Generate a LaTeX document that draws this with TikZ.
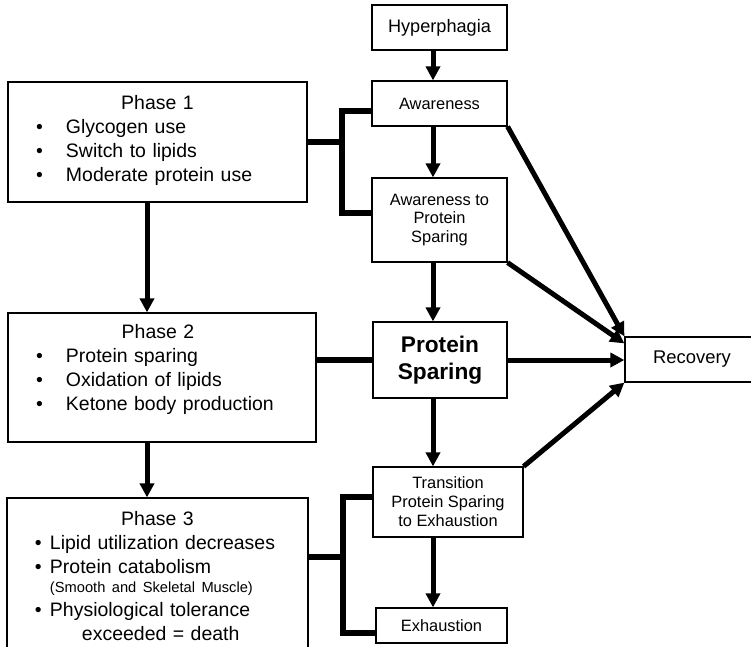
\documentclass[tikz,border=0pt]{standalone}
\usepackage{fontspec}
\setmainfont{Liberation Sans}
\usetikzlibrary{arrows.meta,positioning}
\newlength{\px}\setlength{\px}{0.75pt}
\newcommand{\pitem}[1]{\hspace*{28\px}\makebox[30\px][l]{\textbullet}#1}
\newcommand{\qitem}[1]{\hspace*{28\px}\makebox[15\px][l]{\textbullet}#1}
\tikzset{
  box/.style      ={draw,line width=1.2\px,minimum width=135\px,minimum height=45\px,inner sep=0pt,align=center,font=\fontsize{12.3}{13.6}\selectfont},
  phasebox/.style ={draw,line width=1.2\px,inner sep=0pt},
  phasetext/.style={text width=#1,inner sep=0pt,align=left,font=\fontsize{14.6}{18}\selectfont},
  bar/.style      ={line width=5.5\px},
  arr/.style      ={line width=5\px,-{Triangle[length=10.5pt,width=10.5pt]}},
}
\begin{document}
\begin{tikzpicture}[x=0.75pt,y=-0.75pt]
  \useasboundingbox (0,0) rectangle (751,647);
  % right column
  \node[box,font=\fontsize{13.6}{16}\selectfont] (hyper) at (439.5,27.5) {Hyperphagia};
  \node[box] (aware) at (439.5,103.5) {Awareness};
  \node[box,minimum height=84\px] (awps) at (439.5,220) {Awareness to\\Protein\\Sparing};
  \node[box,minimum width=134\px,minimum height=76\px,font=\fontsize{17}{20}\selectfont\bfseries] (ps) at (440,360) {Protein\\Sparing};
  \node[box,minimum width=150\px,minimum height=70\px,font=\fontsize{12.3}{14.3}\selectfont] (trans) at (448,502) {Transition\\Protein Sparing\\to Exhaustion};
  \node[box,minimum width=131\px,minimum height=35\px] (exh) at (441.5,625.5) {Exhaustion};
  \node[box,minimum width=134\px,font=\fontsize{13.8}{16}\selectfont] (rec) at (692,359.5) {Recovery};
  % phases
  \node[phasebox,minimum width=299\px,minimum height=120\px] (ph1) at (157.5,142) {};
  \node[phasetext=299\px,below=14\px of ph1.north] (ph1t) {\null\hfill Phase 1\hfill\null\\
    \pitem{Glycogen use}\\\pitem{Switch to lipids}\\\pitem{Moderate protein use}};
  \node[phasebox,minimum width=308\px,minimum height=129\px] (ph2) at (162,377.5) {};
  \node[phasetext=308\px,below=12\px of ph2.north] (ph2t) {\null\hfill Phase 2\hfill\hspace*{8\px}\null\\
    \pitem{Protein sparing}\\\pitem{Oxidation of lipids}\\\pitem{Ketone body production}};
  \node[phasebox,minimum width=301\px,minimum height=156\px] (ph3) at (157.5,576) {};
  \node[phasetext=301\px,below=14\px of ph3.north] (ph3t) {\null\hfill Phase 3\hfill\null\\
    \qitem{Lipid utilization decreases}\\\qitem{Protein catabolism}\\[-4.1pt]
    \hspace*{43\px}{\fontsize{11}{13}\selectfont(Smooth and Skeletal Muscle)}\\
    \qitem{Physiological tolerance}\\\hspace*{75\px}exceeded = death};
  % arrows
  \coordinate (ax) at (433,0);
  \coordinate (pa) at (147,0);
  \foreach \a/\b in {hyper/aware,aware/awps,awps/ps,ps/trans,trans/exh}{\draw[arr](\a.south -| ax)--(\b.north -| ax);}
  \foreach \a/\b in {ph1/ph2,ph2/ph3}{\draw[arr](\a.south -| pa)--(\b.north -| pa);}
  \draw[arr](aware.south east)--(rec.north west);
  \draw[arr](awps.south east)--([yshift=-7\px]rec.north west);
  \draw[arr](ps.east)--(ps.east -| rec.west);
  \draw[arr](trans.north east)--(rec.south west);
  % brackets
  \coordinate (k1) at (342,111); \coordinate (k2) at (342,213);
  \coordinate (k3) at (343,497); \coordinate (k4) at (343,633); \coordinate (k5) at (343,557);
  \draw[bar](aware.west |- k1)--(k1)--(k2)--(awps.west |- k2);
  \draw[bar](ph1.east)--(ph1.east -| k1);
  \draw[bar](ph2.east |- ps.west)--(ps.west);
  \draw[bar](trans.west |- k3)--(k3)--(k4)--(exh.west |- k4);
  \draw[bar](ph3.east |- k5)--(k5);
\end{tikzpicture}
\end{document}
